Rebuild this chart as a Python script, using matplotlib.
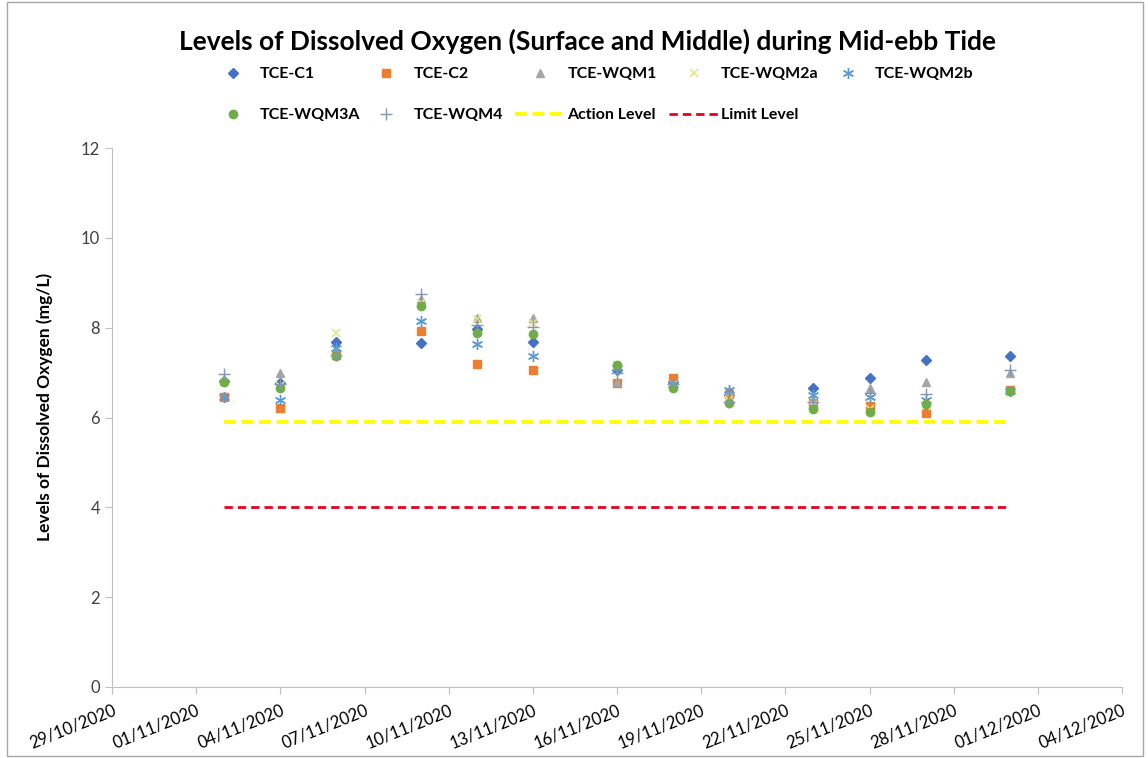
import matplotlib
matplotlib.use("Agg")
import matplotlib.pyplot as plt
from matplotlib.patches import Rectangle
import numpy as np
import datetime as dt

plt.rcParams['font.family'] = ['Lato', 'DejaVu Sans']

# sampling dates
dates = ["02/11/2020", "04/11/2020", "06/11/2020", "09/11/2020", "11/11/2020",
         "13/11/2020", "16/11/2020", "18/11/2020", "20/11/2020", "23/11/2020",
         "25/11/2020", "27/11/2020", "30/11/2020"]

# dissolved oxygen (mg/L)
tce_c1 = [6.81, 6.76, 7.68, 7.66, 7.97, 7.69, 7.05, 6.80, 6.50, 6.65, 6.87, 7.28, 7.37]
tce_c2 = [6.46, 6.21, 7.40, 7.93, 7.20, 7.06, 6.76, 6.87, 6.52, 6.33, 6.26, 6.11, 6.62]
tce_wqm1 = [6.85, 7.00, 7.45, 8.63, 8.22, 8.21, 6.78, 6.75, 6.58, 6.40, 6.65, 6.80, 6.98]
tce_wqm2a = [6.80, 6.70, 7.88, 8.55, 8.20, 8.10, 7.17, 6.72, 6.40, 6.28, 6.20, 6.25, 6.55]
tce_wqm2b = [6.46, 6.38, 7.55, 8.15, 7.63, 7.37, 7.10, 6.75, 6.62, 6.50, 6.46, 6.40, 6.60]
tce_wqm3a = [6.80, 6.66, 7.38, 8.48, 7.88, 7.85, 7.17, 6.65, 6.32, 6.18, 6.13, 6.30, 6.60]
tce_wqm4 = [6.97, 6.75, 7.40, 8.76, 8.07, 8.02, 7.00, 6.75, 6.35, 6.35, 6.55, 6.52, 7.05]

action_level = 5.9
limit_level = 4.0

x_ticks = ["29/10/2020", "01/11/2020", "04/11/2020", "07/11/2020", "10/11/2020",
           "13/11/2020", "16/11/2020", "19/11/2020", "22/11/2020", "25/11/2020",
           "28/11/2020", "01/12/2020", "04/12/2020"]

def to_date(s):
    return dt.datetime.strptime(s, "%d/%m/%Y")

xd = [to_date(d) for d in dates]
xt = [to_date(d) for d in x_ticks]

fig = plt.figure(figsize=(11.48, 7.58), dpi=100)
ax = fig.add_axes([0.0976, 0.0937, 0.8798, 0.711])

series = [
    ("TCE-C1", tce_c1, dict(marker="D", color="#4472C4", ms=5)),
    ("TCE-C2", tce_c2, dict(marker="s", color="#ED7D31", ms=6)),
    ("TCE-WQM1", tce_wqm1, dict(marker="^", color="#A5A5A5", ms=6)),
    ("TCE-WQM2a", tce_wqm2a, dict(marker="x", color="#E6E68C", ms=6, mew=1.2)),
    ("TCE-WQM2b", tce_wqm2b, dict(marker=(6, 2, 0), color="#5B9BD5", ms=8, mew=1.0)),
    ("TCE-WQM3A", tce_wqm3a, dict(marker="o", color="#70AD47", ms=6)),
    ("TCE-WQM4", tce_wqm4, dict(marker="+", color="#8497B0", ms=9, mew=1.0)),
]

handles = []
for name, vals, st in series:
    h, = ax.plot(xd, vals, linestyle="none", label=name, **st)
    handles.append(h)

ha, = ax.plot([xd[0], xd[-1]], [action_level] * 2, color="#FFFF00", lw=2.8,
              ls=(0, (3, 1.5)), label="Action Level")
hl, = ax.plot([xd[0], xd[-1]], [limit_level] * 2, color="#E8001C", lw=2,
              ls=(0, (3, 1.8)), label="Limit Level")
handles += [ha, hl]

ax.set_xlim(xt[0], xt[-1])
ax.set_ylim(0, 12)
ax.set_yticks(np.arange(0, 13, 2))
ax.set_xticks(xt)
ax.set_xticklabels(x_ticks, rotation=22, ha="right", rotation_mode="anchor")
ax.tick_params(axis="x", labelsize=12, length=5, color="#BFBFBF", pad=6)
ax.tick_params(axis="y", labelsize=12, length=5, color="#BFBFBF", labelcolor="#404040")
for s in ["top", "right"]:
    ax.spines[s].set_visible(False)
for s in ["left", "bottom"]:
    ax.spines[s].set_color("#BFBFBF")

ax.set_ylabel("Levels of Dissolved Oxygen (mg/L)", fontsize=12.5, fontweight="bold")
ax.yaxis.set_label_coords(-0.058, 0.52)

fig.text(0.512, 0.945, "Levels of Dissolved Oxygen (Surface and Middle) during Mid-ebb Tide",
         ha="center", va="center", fontsize=19, fontweight="bold")

# legend laid out like Excel: fixed-width columns, 5 per row
col_w = 0.134
x0 = 0.181
rows_y = [0.902, 0.848]
for i, h in enumerate(handles):
    r, c = divmod(i, 5)
    fig.legend(handles=[h], loc="center left", bbox_to_anchor=(x0 + c * col_w, rows_y[r]),
               frameon=False, borderpad=0, borderaxespad=0, handlelength=3.1,
               handletextpad=0.15, prop={"weight": "bold", "size": 11.5})

fig.add_artist(Rectangle((0.006, 0.003), 0.99, 0.994, transform=fig.transFigure,
                         fill=False, edgecolor="#A6A6A6", lw=1))

fig.savefig("out.png", dpi=100)
